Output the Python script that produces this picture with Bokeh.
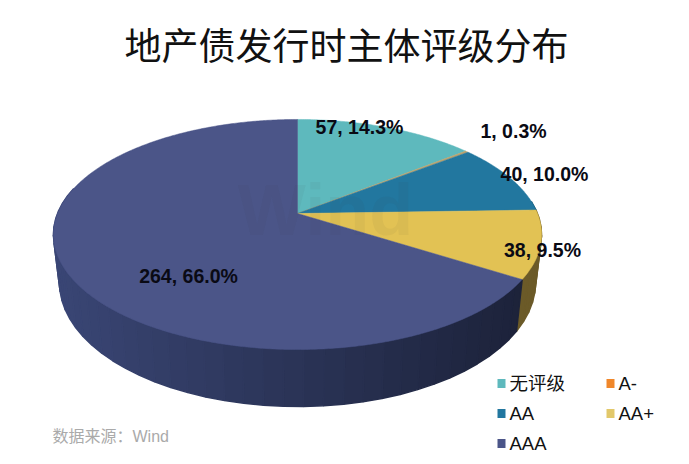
import math
from bokeh.plotting import figure
from bokeh.models import Range1d
from bokeh.core.properties import value
from bokeh.embed import file_html
from bokeh.resources import INLINE

title_text = "地产债发行时主体评级分布"
source_text = "数据来源：Wind"
watermark = "Wind"
categories = ["无评级", "A-", "AA", "AA+", "AAA"]
values = [57, 1, 40, 38, 264]
percents = ["14.3%", "0.3%", "10.0%", "9.5%", "66.0%"]
top_colors = ["#5eb9bd", "#b9a26e", "#22779f", "#e2c254", "#4b5588"]
legend_colors = ["#5eb9bd", "#f0872a", "#22779f", "#e2c86a", "#4b5588"]
side_colors = ["#3f8f93", "#a06a20", "#17506b", "#6b5a28", "#3a4675"]

# layout
CX, CY = 297, 213
A, B, K = 240.0, 111.2, -0.1826
DEPTH = 46.6
TAPER = 0.975
label_pos = [(359, 126), (513, 130), (544, 173), (542, 249), (188, 275)]
legend_pos = [(497, 383), (606, 383), (497, 413), (606, 413), (497, 443)]
FONT = "Liberation Sans, Noto Sans CJK SC"

p = figure(width=689, height=464, x_range=Range1d(0, 689), y_range=Range1d(464, 0),
           tools="", toolbar_location=None, output_backend="svg",
           min_border=0, background_fill_color="white", border_fill_color="white")
p.axis.visible = False
p.grid.visible = False
p.outline_line_color = None


def rim(deg, drop=0.0):
    a = math.radians(deg)
    u, v = math.sin(a), -math.cos(a)
    w = 1 + K * v
    sx = TAPER if drop else 1.0
    return CX + sx * A * u / w, CY + (B * v + drop) / w


total = sum(values)
edges = [0.0]
for val in values:
    edges.append(edges[-1] + 360.0 * val / total)


def shade(x):
    # left edge of the side wall is lighter, right edge is darker
    t = min(1.0, max(0.0, (x - 55) / 485))
    return 1.0 - 0.52 * t


def scaled(col, f):
    r, g, b = [int(col[i:i + 2], 16) for i in (1, 3, 5)]
    return "#%02x%02x%02x" % (min(255, int(r * f)), min(255, int(g * f)), min(255, int(b * f)))


# side wall
xs, ys, cs = [], [], []
for i, col in enumerate(side_colors):
    n = max(2, int((edges[i + 1] - edges[i]) / 4))
    for j in range(n):
        a0 = edges[i] + (edges[i + 1] - edges[i]) * j / n
        a1 = edges[i] + (edges[i + 1] - edges[i]) * (j + 1) / n
        if 80 < a0 < 282:
            p0, p1, p2, p3 = rim(a0), rim(a1), rim(a1, DEPTH), rim(a0, DEPTH)
            xs.append([p0[0], p1[0], p2[0], p3[0]])
            ys.append([p0[1], p1[1], p2[1], p3[1]])
            f = shade((p0[0] + p1[0]) / 2) if i == 4 else 1.0
            cs.append(scaled(col, f))
p.patches(xs, ys, fill_color=cs, line_color=cs, line_width=1.5)

# top face
xs, ys = [], []
for i in range(len(values)):
    n = max(2, int((edges[i + 1] - edges[i]) / 0.5))
    pts = [rim(edges[i] + (edges[i + 1] - edges[i]) * j / n) for j in range(n + 1)]
    xs.append([CX] + [q[0] for q in pts])
    ys.append([CY] + [q[1] for q in pts])
p.patches(xs, ys, fill_color=top_colors, line_color=top_colors, line_width=0.5)

# watermark
p.text([325], [209], text=[watermark], text_font=value("Liberation Sans"), text_font_style="bold",
       text_font_size="72px", text_align="center", text_baseline="middle",
       text_color="#444444", text_alpha=0.05)

# title
p.text([346], [43], text=[title_text], text_font=value("Noto Sans CJK SC"),
       text_font_size="37px", text_align="center", text_baseline="middle", text_color="#111111")

# data labels
for (lx, ly), val, pct in zip(label_pos, values, percents):
    p.text([lx], [ly], text=[f"{val}, {pct}"], text_font=value("Liberation Sans"),
           text_font_style="bold", text_font_size="19.5px", text_align="center",
           text_baseline="middle", text_color="#0a0a14")

# legend
for (lx, ly), cat, col in zip(legend_pos, categories, legend_colors):
    p.rect([lx + 4], [ly], width=8, height=9, fill_color=col, line_color=None)
    p.text([lx + 12], [ly], text=[cat], text_font=value(FONT), text_font_size="18.5px",
           text_align="left", text_baseline="middle", text_color="#111111")

# source
p.text([52], [436], text=[source_text], text_font=value(FONT), text_font_size="16px",
       text_align="left", text_baseline="middle", text_color="#aaaaaa")

open("out.html", "w").write(file_html(p, INLINE))
